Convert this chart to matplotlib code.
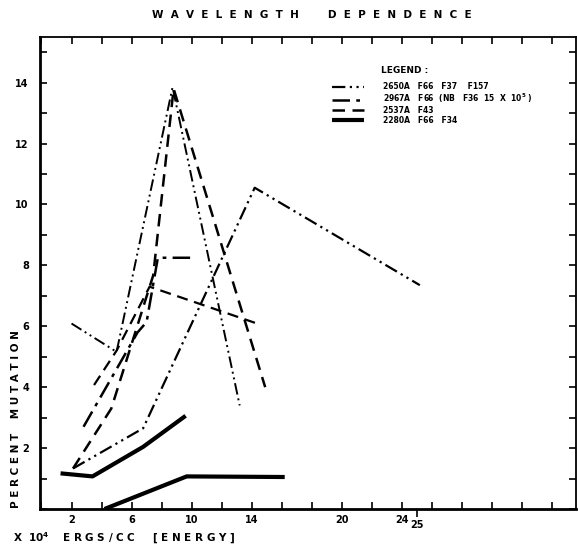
import matplotlib
matplotlib.use('Agg')
import matplotlib.pyplot as plt

# 2650A  (dash-dot-dot) -- three strains
w2650_x1 = [2.1, 6.77, 14.2, 25.2]
w2650_y1 = [1.33, 2.65, 10.55, 7.35]
w2650_x2 = [2.0, 5.0, 8.73, 13.2]
w2650_y2 = [6.09, 5.16, 13.85, 3.4]
w2650_x3 = [3.5, 5.0, 7.2, 14.3]
w2650_y3 = [4.07, 5.2, 7.3, 6.1]

# 2967A  (dash-dot)
w2967_x = [2.8, 6.4, 7.0, 7.75, 10.3]
w2967_y = [2.7, 5.8, 6.14, 8.25, 8.25]

# 2537A  (dashed)
w2537_x = [2.1, 4.65, 7.44, 8.8, 14.9]
w2537_y = [1.33, 3.3, 7.67, 13.8, 4.0]

# 2280A  (solid) -- two strains
w2280_x1 = [1.27, 3.4, 6.77, 9.6]
w2280_y1 = [1.17, 1.07, 2.04, 3.06]
w2280_x2 = [4.2, 9.67, 16.2]
w2280_y2 = [0.0, 1.07, 1.05]

xticks = list(range(0, 36, 2))
xlabels_shown = {2: '2', 6: '6', 10: '10', 14: '14', 20: '20', 24: '24'}
yticks = list(range(0, 16))
ylabels_shown = {2: '2', 4: '4', 6: '6', 8: '8', 10: '10', 12: '12', 14: '14'}

legend_labels = ['2650A   F66   F37    F157',
                 '2967A   F66  (NB   F36  15  X  10$^5$ )',
                 '2537A   F43',
                 '2280A   F66   F34']

plt.rcParams['font.family'] = ['DejaVu Sans']
plt.rcParams['font.weight'] = 'bold'

fig = plt.figure(figsize=(5.78, 5.48), dpi=100)
ax = fig.add_axes([0.0692, 0.0712, 0.9273, 0.8613])

ddot = (0, (6, 2, 1, 2, 1, 2))
ddash = (0, (7, 2.5, 1.5, 2.5))
dash = (0, (5, 3))

h1, = ax.plot(w2650_x1, w2650_y1, color='black', lw=1.6, linestyle=ddot)
ax.plot(w2650_x2, w2650_y2, color='black', lw=1.4, linestyle=ddot)
ax.plot(w2650_x3, w2650_y3, color='black', lw=1.6, linestyle=dash)
h2, = ax.plot(w2967_x, w2967_y, color='black', lw=1.8, linestyle=ddash)
h3, = ax.plot(w2537_x, w2537_y, color='black', lw=1.8, linestyle=dash)
h4, = ax.plot(w2280_x1, w2280_y1, color='black', lw=3.0, solid_capstyle='butt')
ax.plot(w2280_x2, w2280_y2, color='black', lw=3.0, solid_capstyle='butt')

ax.set_xlim(-0.1, 35.6)
ax.set_ylim(0, 15.5)

ax.set_xticks(xticks)
ax.set_xticklabels([xlabels_shown.get(t, '') for t in xticks], fontsize=7, fontweight='bold')
ax.set_yticks(yticks)
ax.set_yticklabels([ylabels_shown.get(t, '') for t in yticks], fontsize=7, fontweight='bold')
ax.tick_params(axis='both', direction='in', length=5, width=1.2, top=True, right=True)
ax.tick_params(axis='x', pad=4)
ax.tick_params(axis='y', pad=8)

# the lone 25 mark hanging under the axis
ax.set_xticks([25], minor=True)
ax.set_xticklabels(['25'], minor=True, fontsize=7, fontweight='bold')
ax.tick_params(axis='x', which='minor', direction='out', length=6, width=1.2, pad=2, top=False)

for s in ['left', 'bottom']:
    ax.spines[s].set_linewidth(2.0)
for s in ['top', 'right']:
    ax.spines[s].set_linewidth(1.3)

leg = ax.legend([h1, h2, h3, h4], legend_labels, frameon=False,
                loc='upper left', bbox_to_anchor=(0.538, 0.912), handlelength=4.2,
                fontsize=5.5, labelspacing=0.08, borderpad=0.0,
                handletextpad=2.4)
for t in leg.get_texts():
    t.set_fontweight('bold')
ax.text(0.637, 0.928, 'LEGEND :', transform=ax.transAxes, ha='left', va='center',
        fontsize=6.5, fontweight='bold')

fig.text(0.54, 0.972, 'W  A  V  E  L  E  N  G  T  H        D  E  P  E  N  D  E  N  C  E',
         ha='center', va='center', fontsize=7.5, fontweight='bold')
fig.text(0.027, 0.235, 'P E R C E N T    M U T A T I O N', rotation=90,
         ha='center', va='center', fontsize=7.5, fontweight='bold')
fig.text(0.022, 0.018, 'X  10$^4$    E R G S / C C     [ E N E R G Y ]',
         ha='left', va='center', fontsize=7.5, fontweight='bold')

fig.savefig('out.png', dpi=100)
